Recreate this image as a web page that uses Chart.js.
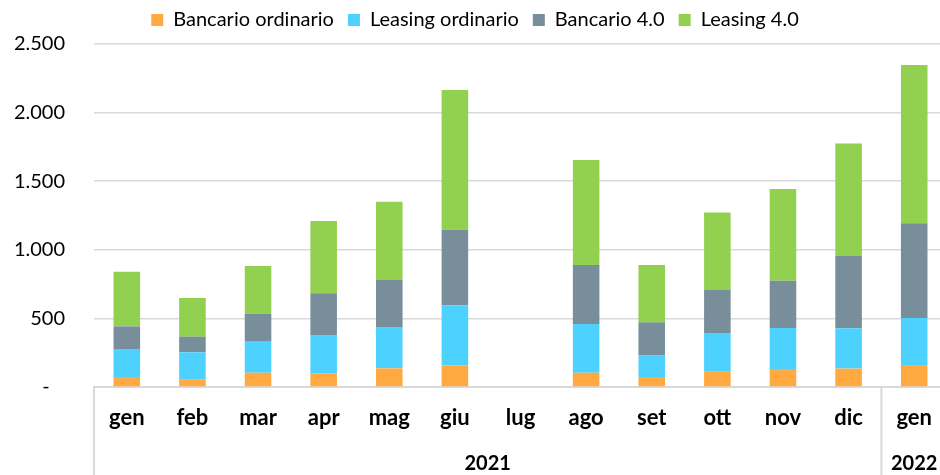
<!DOCTYPE html>
<html>
<head>
<meta charset="utf-8">
<script src="https://cdn.jsdelivr.net/npm/chart.js@4.4.1/dist/chart.umd.min.js"></script>
<style>
  html, body { margin: 0; padding: 0; background: #fff; overflow: hidden; }
  .chart-wrap { width: 950px; height: 475px; position: relative; }
</style>
</head>
<body>
<div class="chart-wrap"><canvas id="chart"></canvas></div>
<script>
const months = ['gen', 'feb', 'mar', 'apr', 'mag', 'giu', 'lug', 'ago', 'set', 'ott', 'nov', 'dic', 'gen'];
const years = ['2021', '2022'];
const yearStarts = [0, 12]; // index of the first month of each year

const bancarioOrdinario = [73, 53, 104, 100, 136, 158, null, 104, 73, 112, 131, 134, 160];
const leasingOrdinario  = [204, 200, 226, 279, 301, 437, null, 355, 160, 282, 299, 294, 343];
const bancario40        = [165, 114, 204, 304, 343, 552, null, 430, 238, 313, 345, 527, 690];
const leasing40         = [398, 282, 348, 527, 571, 1018, null, 766, 418, 564, 668, 819, 1154];

const yMax = 2500;
const yStep = 500;

const FONT = 'Lato, "Open Sans", sans-serif';
const GRID = '#d9d9d9';

function formatThousands(v) {
    if (v === 0) return '-   ';
    return String(v).replace(/\B(?=(\d{3})+(?!\d))/g, '.');
}

// second level of the category axis: year boxes + labels
const yearAxis = {
    id: 'yearAxis',
    afterDraw(chart) {
        const x = chart.scales.x;
        const ctx = chart.ctx;
        const half = (x.getPixelForValue(1) - x.getPixelForValue(0)) / 2;
        ctx.save();
        ctx.strokeStyle = GRID;
        ctx.lineWidth = 2;
        ctx.fillStyle = '#000';
        ctx.font = 'bold 20px ' + FONT;
        ctx.textAlign = 'center';
        ctx.textBaseline = 'middle';
        years.forEach((year, i) => {
            const first = yearStarts[i];
            const last = i + 1 < years.length ? yearStarts[i + 1] - 1 : months.length - 1;
            const left = x.getPixelForValue(first) - half;
            const right = x.getPixelForValue(last) + half;
            ctx.beginPath();
            ctx.moveTo(left, x.top);
            ctx.lineTo(left, chart.height);
            ctx.stroke();
            ctx.fillText(year, (left + right) / 2, x.bottom - 11);
        });
        ctx.restore();
    }
};

// fixed legend height so the plot starts where it does in the original
const legendHeight = {
    id: 'legendHeight',
    afterInit(chart) {
        const fit = chart.legend.fit;
        chart.legend.fit = function () {
            fit.call(this);
            this.height = 48;
        };
    }
};

const ctx = document.getElementById('chart').getContext('2d');

new Chart(ctx, {
    type: 'bar',
    data: {
        labels: months,
        datasets: [
            { label: 'Bancario ordinario', data: bancarioOrdinario, backgroundColor: '#FFA940' },
            { label: 'Leasing ordinario', data: leasingOrdinario, backgroundColor: '#4DD2FF' },
            { label: 'Bancario 4.0', data: bancario40, backgroundColor: '#788F9B' },
            { label: 'Leasing 4.0', data: leasing40, backgroundColor: '#92D050' }
        ]
    },
    options: {
        responsive: true,
        maintainAspectRatio: false,
        animation: false,
        barPercentage: 0.405,
        categoryPercentage: 1.0,
        layout: {
            padding: { top: -4, left: 0, right: 0, bottom: 0 }
        },
        plugins: {
            legend: {
                position: 'top',
                align: 'center',
                labels: {
                    boxWidth: 12,
                    boxHeight: 12,
                    padding: 14,
                    color: '#000',
                    font: { family: FONT, size: 20 }
                }
            },
            tooltip: { enabled: false }
        },
        scales: {
            x: {
                stacked: true,
                grid: { display: false, drawTicks: false },
                border: { display: true, color: GRID, width: 2 },
                ticks: {
                    color: '#000',
                    padding: 18,
                    maxRotation: 0,
                    autoSkip: false,
                    font: { family: FONT, size: 22, weight: 'bold' }
                },
                afterFit(scale) { scale.height = 88; }
            },
            y: {
                stacked: true,
                min: 0,
                max: yMax,
                grid: { color: GRID, lineWidth: 1.5, drawTicks: false },
                border: { display: false },
                ticks: {
                    stepSize: yStep,
                    padding: 29,
                    color: '#000',
                    font: { family: FONT, size: 20 },
                    callback: formatThousands
                },
                afterFit(scale) { scale.width = 94; }
            }
        }
    },
    plugins: [yearAxis, legendHeight]
});
</script>
</body>
</html>
